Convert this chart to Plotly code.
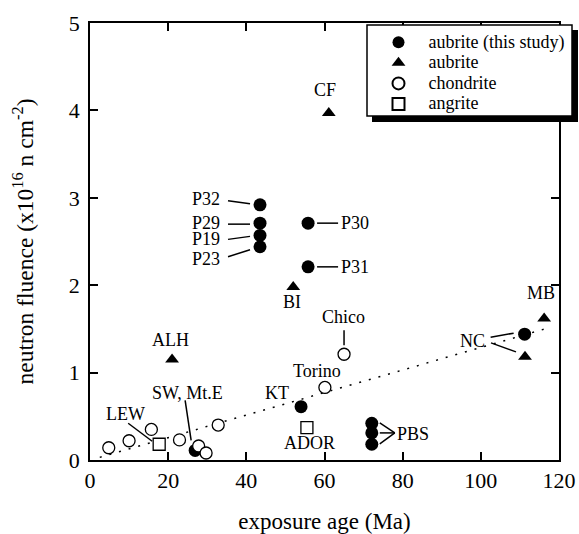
import plotly.graph_objects as go

# ---- data ----
study_names = ["P32", "P29", "P19", "P23", "P30", "P31", "KT", "PBS1", "PBS2", "PBS3", "NC", "SW"]
study_x = [43.5, 43.5, 43.5, 43.5, 55.8, 55.8, 54.0, 72.1, 72.1, 72.1, 111.2, 26.9]
study_y = [2.92, 2.71, 2.57, 2.44, 2.71, 2.21, 0.61, 0.42, 0.31, 0.18, 1.44, 0.11]

aub_names = ["CF", "BI", "ALH", "MB", "NC_t"]
aub_x = [61.1, 52.0, 21.0, 116.2, 111.3]
aub_y = [3.97, 1.98, 1.15, 1.62, 1.18]

chon_names = ["c1", "c2", "c3", "c4", "c5", "c6", "c7", "Torino", "Chico"]
chon_x = [4.8, 10.0, 15.7, 22.9, 27.8, 29.7, 32.8, 60.1, 65.0]
chon_y = [0.14, 0.22, 0.35, 0.23, 0.16, 0.08, 0.40, 0.83, 1.21]

ang_names = ["LEW", "ADOR"]
ang_x = [17.7, 55.5]
ang_y = [0.18, 0.37]

fit_x = [2.5, 118.0]
fit_y = [0.03, 1.52]

x_ticks = [0, 20, 40, 60, 80, 100, 120]
y_ticks = [0, 1, 2, 3, 4, 5]

legend_names = ["aubrite (this study)", "aubrite", "chondrite", "angrite"]

FONT = "'Liberation Serif', 'Times New Roman', 'DejaVu Serif', serif"


def lg(name):
    return "<span style='font-size:18px'>" + name + "</span>"


pts = {}
for n, x, y in zip(study_names, study_x, study_y):
    pts[n] = (x, y)
for n, x, y in zip(aub_names, aub_x, aub_y):
    pts[n] = (x, y)
for n, x, y in zip(chon_names, chon_x, chon_y):
    pts[n] = (x, y)
for n, x, y in zip(ang_names, ang_x, ang_y):
    pts[n] = (x, y)

fig = go.Figure()
fig.add_trace(go.Scatter(x=fit_x, y=fit_y, mode="lines", showlegend=False,
                         line=dict(color="black", width=1.5, dash="2px,8px"), hoverinfo="skip"))
fig.add_trace(go.Scatter(x=study_x, y=study_y, mode="markers", name=lg(legend_names[0]),
                         marker=dict(symbol="circle", size=13, color="black")))
fig.add_trace(go.Scatter(x=aub_x, y=aub_y, mode="markers", name=lg(legend_names[1]),
                         marker=dict(symbol="triangle-up", size=12, color="black")))
fig.add_trace(go.Scatter(x=chon_x, y=chon_y, mode="markers", name=lg(legend_names[2]),
                         marker=dict(symbol="circle", size=12, color="white",
                                     line=dict(color="black", width=1.3))))
fig.add_trace(go.Scatter(x=ang_x, y=ang_y, mode="markers", name=lg(legend_names[3]),
                         marker=dict(symbol="square", size=12, color="white",
                                     line=dict(color="black", width=1.3))))

# labels: (text, anchor point, dx px, dy px (up), xanchor)
labels = [
    ("P32", "P32", -38, 6, "right"),
    ("P29", "P29", -38, 0, "right"),
    ("P19", "P19", -38, -4, "right"),
    ("P23", "P23", -38, -12, "right"),
    ("P30", "P30", 31, 0, "left"),
    ("P31", "P31", 31, 0, "left"),
    ("KT", "KT", -24, 14, "center"),
    ("PBS", "PBS2", 23, -1, "left"),
    ("NC", "NC", -52, -7, "center"),
    ("SW, Mt.E", "SW", -8, 57, "center"),
    ("CF", "CF", -4, 23, "center"),
    ("BI", "BI", -1, -15, "center"),
    ("ALH", "ALH", -2, 19, "center"),
    ("MB", "MB", -3, 25, "center"),
    ("Chico", "Chico", -1, 37, "center"),
    ("Torino", "Torino", -8, 16, "center"),
    ("LEW", "LEW", -34, 30, "center"),
    ("ADOR", "ADOR", 3, -15, "center"),
]
for text, key, dx, dy, xa in labels:
    x, y = pts[key]
    fig.add_annotation(x=x, y=y, text=text, showarrow=False, xanchor=xa, yanchor="middle",
                       xshift=dx, yshift=dy, font=dict(family=FONT, size=18, color="black"))

# leader lines: (anchor point, x0, y0, x1, y1) in px offsets
leaders = [
    ("P32", -32, 4, -10, 1),
    ("P29", -32, -1, -10, -1),
    ("P19", -32, -4, -10, -1),
    ("P23", -32, -10, -10, -3),
    ("P30", 9, 0, 30, 0),
    ("P31", 9, 0, 30, 0),
    ("Chico", 0, 24, 0, 9),
    ("PBS2", 8, 10, 23, 0),
    ("PBS2", 8, 0, 23, 0),
    ("PBS2", 8, -11, 23, 0),
    ("NC", -34, -3, -11, 1),
    ("NC_t", -34, 14, -9, 5),
    ("SW", -10, 50, -4, 10),
    ("LEW", -31, 21, -7, 3),
]
for key, x0, y0, x1, y1 in leaders:
    x, y = pts[key]
    fig.add_shape(type="line", xref="x", yref="y", xsizemode="pixel", ysizemode="pixel",
                  xanchor=x, yanchor=y, x0=x0, y0=y0, x1=x1, y1=y1,
                  line=dict(color="black", width=1.5))

# plot area in pixels: x 90..559, y 23..460
PW, PH = 469.0, 437.0


def px(v):
    return (v - 90) / PW


def py(v):
    return (460 - v) / PH


# legend frame with drop shadow (frame, then right and bottom shadow strips)
fig.add_shape(type="rect", xref="paper", yref="paper",
              x0=px(367), x1=px(572), y0=py(116), y1=py(25),
              fillcolor="white", line=dict(color="black", width=1.5), layer="above")
fig.add_shape(type="rect", xref="paper", yref="paper",
              x0=px(572), x1=px(578), y0=py(122), y1=py(30),
              fillcolor="black", line=dict(width=0), layer="above")
fig.add_shape(type="rect", xref="paper", yref="paper",
              x0=px(372), x1=px(578), y0=py(122), y1=py(116),
              fillcolor="black", line=dict(width=0), layer="above")

axis_common = dict(showline=True, linecolor="black", linewidth=1.5, mirror="ticks",
                   ticks="inside", ticklen=8, tickwidth=1.5, tickcolor="black",
                   showgrid=False, zeroline=False, automargin=False,
                   tickfont=dict(family=FONT, size=22, color="black"))

fig.update_layout(
    width=579, height=534,
    margin=dict(l=90, r=20, t=23, b=74, autoexpand=False),
    paper_bgcolor="white", plot_bgcolor="white",
    font=dict(family=FONT, color="black"),
    xaxis=dict(range=[0, 120], tickvals=x_ticks, ticktext=[str(v) for v in x_ticks],
               title=dict(text="exposure age (Ma)", font=dict(family=FONT, size=23), standoff=27),
               **axis_common),
    yaxis=dict(range=[0, 5], tickvals=y_ticks, ticktext=[str(v) for v in y_ticks],
               ticklabelstandoff=4,
               title=dict(text="neutron fluence (x10<sup>16</sup> n cm<sup>-2</sup>)",
                          font=dict(family=FONT, size=23.5), standoff=29),
               **axis_common),
    legend=dict(x=px(368.5), y=py(27), xanchor="left", yanchor="top",
                bgcolor="rgba(0,0,0,0)", borderwidth=0,
                font=dict(family=FONT, size=13.5, color="black"),
                tracegroupgap=0, itemsizing="constant", itemwidth=50),
    showlegend=True,
)

# remove the page's default 8px body margin so the figure fills the window exactly
fig.write_html("out.html", config={"displayModeBar": False},
               post_script="document.body.style.margin='0';document.body.style.overflow='hidden';")
